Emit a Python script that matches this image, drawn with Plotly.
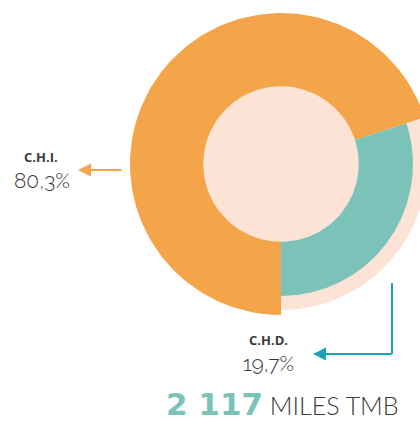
import numpy as np
import plotly.graph_objects as go

# slices as drawn (share of the ring) and their printed labels
categories = ["C.H.I.", "C.H.D."]
ring_share = [70, 30]
pct_labels = ["80,3%", "19,7%"]
total_value = "2 117"
total_unit = "MILES TMB"

ORANGE = "#F4A54A"
TEAL = "#7BC3B8"
PEACH = "#FDE3D6"
TEAL_ARROW = "#1BA3B5"
GREY = "#3a3a3a"


def sector(a0, a1, r, n=200):
    t = np.radians(np.linspace(a0, a1, n))
    xs = np.concatenate([[0], r * np.cos(t), [0]])
    ys = np.concatenate([[0], r * np.sin(t), [0]])
    return xs, ys


fig = go.Figure()

# peach backing circle
bx, by = sector(0, 360, 0.967)
fig.add_trace(go.Scatter(x=bx, y=by, fill="toself", fillcolor=PEACH, mode="lines",
                         line=dict(width=0), hoverinfo="skip"))

# slices start at the bottom, teal runs counterclockwise, orange the rest
start = -90
teal_end = start + ring_share[1] / 100 * 360
ox, oy = sector(teal_end, start + 360, 1.0)
fig.add_trace(go.Scatter(x=ox, y=oy, fill="toself", fillcolor=ORANGE, mode="lines",
                         line=dict(width=0), hoverinfo="skip", name=categories[0]))
tx, ty = sector(start, teal_end, 0.874)
fig.add_trace(go.Scatter(x=tx, y=ty, fill="toself", fillcolor=TEAL, mode="lines",
                         line=dict(width=0), hoverinfo="skip", name=categories[1]))

# inner disc
ix, iy = sector(0, 360, 0.515)
fig.add_trace(go.Scatter(x=ix, y=iy, fill="toself", fillcolor=PEACH, mode="lines",
                         line=dict(width=0), hoverinfo="skip"))

# pixel helpers: centre at (281,164), 151 px per unit
cx, cy, s = 281, 164, 151.0
px = lambda p: (p - cx) / s
py = lambda p: (cy - p) / s

fig.update_xaxes(range=[px(0), px(420)], visible=False, fixedrange=True)
fig.update_yaxes(range=[py(423), py(0)], visible=False, fixedrange=True)

font_light = dict(family="Raleway, Lato, Roboto", size=21, color=GREY, weight=300)
font_bold = dict(family="Open Sans", size=13, color=GREY, weight=800)

# C.H.I. label + arrow
fig.add_annotation(x=px(41), y=py(157), text="<b>" + categories[0] + "</b>", showarrow=False,
                   font=font_bold)
fig.add_annotation(x=px(42), y=py(180), text=pct_labels[0], showarrow=False, font=font_light)
fig.add_annotation(x=px(78), y=py(170), ax=px(123), ay=py(170), xref="x", yref="y",
                   axref="x", ayref="y", text="", showarrow=True, arrowhead=2,
                   arrowsize=1.3, arrowwidth=2, arrowcolor=ORANGE)

# C.H.D. label + elbow arrow
fig.add_annotation(x=px(268), y=py(340), text="<b>" + categories[1] + "</b>", showarrow=False,
                   font=font_bold)
fig.add_annotation(x=px(268), y=py(363), text=pct_labels[1], showarrow=False, font=font_light)
fig.add_shape(type="line", x0=px(392), y0=py(283), x1=px(392), y1=py(354),
              line=dict(color=TEAL_ARROW, width=2))
fig.add_annotation(x=px(313), y=py(354), ax=px(393), ay=py(354), xref="x", yref="y",
                   axref="x", ayref="y", text="", showarrow=True, arrowhead=2,
                   arrowsize=1.3, arrowwidth=2, arrowcolor=TEAL_ARROW)

# total
fig.add_annotation(x=px(282), y=py(404),
                   text=("<span style='font-family:DejaVu Sans;font-size:31px;color:%s;"
                         "font-weight:900'>%s</span> %s") % (TEAL, total_value, total_unit),
                   showarrow=False, font=dict(family="Lato, Roboto", size=25, color=GREY, weight=300))

fig.update_layout(width=420, height=423, margin=dict(l=0, r=0, t=0, b=0),
                  paper_bgcolor="white", plot_bgcolor="white", showlegend=False)

fig.write_html("out.html", config={"displayModeBar": False},
               post_script="document.body.style.margin='0';document.body.style.overflow='hidden';")
